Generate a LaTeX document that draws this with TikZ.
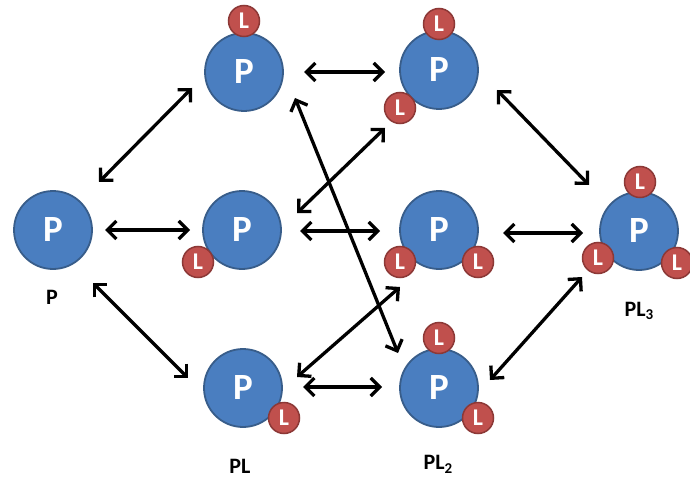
\documentclass[tikz,border=0pt]{standalone}
\usepackage{fontspec}
\setmainfont{Carlito}
\usetikzlibrary{arrows.meta,calc}
\definecolor{pblue}{HTML}{4A7EC0}
\definecolor{pblueb}{HTML}{385D8A}
\definecolor{lred}{HTML}{C0504D}
\definecolor{lredb}{HTML}{8C3836}
\newcommand\lsub[1]{\raisebox{-0.35ex}{\fontsize{15}{15}\selectfont #1}}
\begin{document}
\begin{tikzpicture}[x=1pt,y=-1pt,
  prot/.style={circle, fill=pblue, draw=pblueb, line width=1.8pt, minimum size=78pt, inner sep=0pt, text=white, font=\fontsize{37}{37}\selectfont\bfseries},
  lig/.style={circle, fill=lred, draw=lredb, line width=1.5pt, minimum size=31pt, inner sep=0pt, text=white, font=\fontsize{24}{24}\selectfont\bfseries},
  lab/.style={font=\fontsize{22}{22}\selectfont\bfseries, text=black, inner sep=0pt},
  dbl/.style={line width=3.3pt, {Straight Barb[length=9pt,width=18pt]}-{Straight Barb[length=9pt,width=18pt]}}]
\fill[white] (0,0) rectangle (690,481);
\useasboundingbox (0,0) rectangle (690,481);
% proteins
\node[prot] (P0) at (53,230) {P};
\node[prot] (A) at (244,72) {P};
\node[prot] (B) at (242,230) {P};
\node[prot] (C) at (243,388) {P};
\node[prot] (D) at (439,70) {P};
\node[prot] (E) at (439,230) {P};
\node[prot] (F) at (439,388) {P};
\node[prot] (G) at (639,231) {P};
% ligands
\node[lig] (A1) at ($(A)+(0,-51)$) {L};
\node[lig] (B1) at ($(B)+(-44,32)$) {L};
\node[lig] (C1) at ($(C)+(41,30)$) {L};
\node[lig] (D1) at ($(D)+(0,-46)$) {L};
\node[lig] (D2) at ($(D)+(-39,38)$) {L};
\node[lig] (E1) at ($(E)+(-39,32)$) {L};
\node[lig] (E2) at ($(E)+(39,32)$) {L};
\node[lig] (F1) at ($(F)+(0,-50)$) {L};
\node[lig] (F2) at ($(F)+(39,30)$) {L};
\node[lig] (G1) at ($(G)+(1,-49)$) {L};
\node[lig] (G2) at ($(G)+(-41,27)$) {L};
\node[lig] (G3) at ($(G)+(38,32)$) {L};
% labels
\node[lab] (lP) at (52,297) {P};
\node[lab] (lPL) at (240,466) {PL};
\node[lab] (lPL2) at (438,464) {PL\lsub{2}};
\node[lab] (lPL3) at (639,311) {PL\lsub{3}};
% arrows
\draw[dbl] ($(P0)+(46,-48)$) -- ($(A)+(-52,16)$);
\draw[dbl] ($(P0)+(52,0)$) -- ($(B)+(-52,0)$);
\draw[dbl] ($(P0)+(40,53)$) -- ($(C)+(-55,-10)$);
\draw[dbl] ($(A)+(60,0)$) -- ($(D)+(-54,2)$);
\draw[dbl] ($(A)+(51,26)$) -- ($(F)+(-41,-35)$);
\draw[dbl] ($(B)+(55,-17)$) -- ($(D)+(-54,58)$);
\draw[dbl] ($(B)+(58,1)$) -- ($(E)+(-59,1)$);
\draw[dbl] ($(C)+(54,-11)$) -- ($(E)+(-39,57)$);
\draw[dbl] ($(C)+(60,-1)$) -- ($(F)+(-57,-1)$);
\draw[dbl] ($(D)+(58,20)$) -- ($(G)+(-50,-46)$);
\draw[dbl] ($(E)+(64,3)$) -- ($(G)+(-56,2)$);
\draw[dbl] ($(F)+(51,-8)$) -- ($(G)+(-57,46)$);
\end{tikzpicture}
\end{document}
